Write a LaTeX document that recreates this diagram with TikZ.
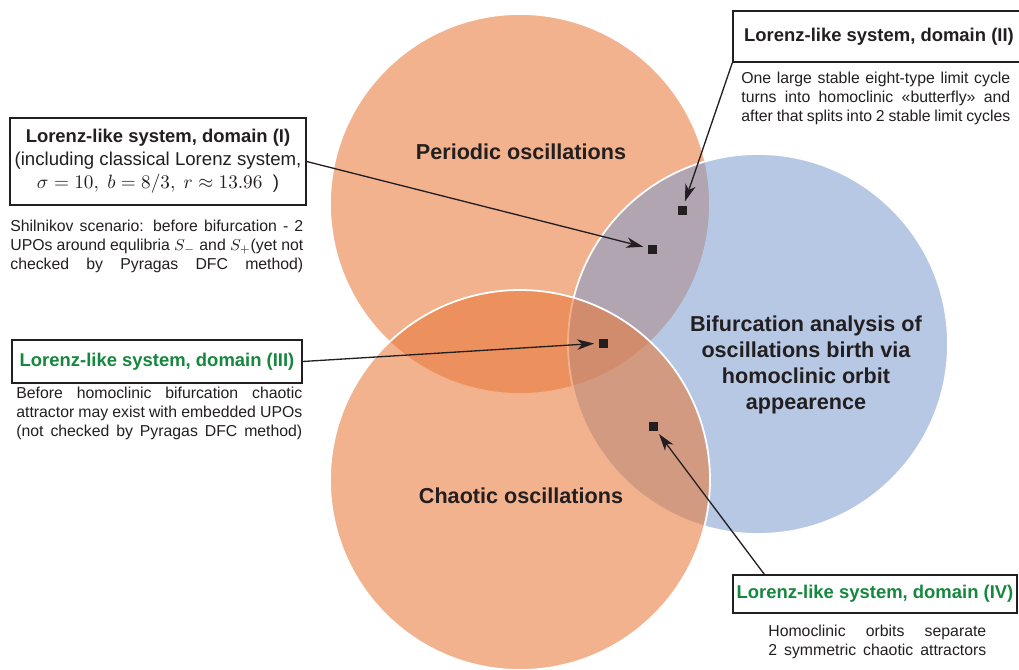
\documentclass[tikz,border=0pt]{standalone}
\usepackage{fontspec}
\setmainfont{Liberation Sans}
\usetikzlibrary{arrows.meta}

\definecolor{orangefill}{RGB}{232,122,60}
\definecolor{bluefill}{RGB}{124,155,206}
\definecolor{domaingreen}{RGB}{22,135,62}
\definecolor{inkgrey}{RGB}{35,31,32}

% one fully justified line of a note
\newcommand{\noteline}[2]{\makebox[#1][s]{#2}}

\begin{document}
\begin{tikzpicture}[x=0.02cm,y=-0.02cm,
    every node/.style={text=inkgrey},
    regime/.style={draw=white,line width=1pt},
    domainbox/.style={draw=inkgrey,line width=0.8pt,fill=white,inner sep=0pt,
        font=\bfseries\fontsize{10.5}{13}\selectfont},
    note/.style={inner sep=0pt,align=left,anchor=north west,
        font=\fontsize{9}{10.8}\selectfont},
    regimelabel/.style={align=center,font=\bfseries\fontsize{12.3}{14.8}\selectfont},
    marker/.style={fill=inkgrey,minimum size=0.18cm,inner sep=0pt},
    pointer/.style={draw=inkgrey,line width=0.75pt,shorten >=0.08cm,
        -{Stealth[length=0.34cm,width=0.21cm,inset=0.1cm]}}]
    \useasboundingbox (0,0) rectangle (1019,670);

    % the three regimes
    \path[regime,fill=orangefill,fill opacity=0.58] (520,204) circle[radius=190];
    \path[regime,fill=bluefill,fill opacity=0.55] (758,344) circle[radius=190];
    \path[regime,fill=orangefill,fill opacity=0.58] (520,480) circle[radius=190];

    \node[regimelabel] (periodic) at (521,152) {Periodic oscillations};
    \node[regimelabel] (chaotic) at (521,496) {Chaotic oscillations};
    \node[regimelabel] (bifurcation) at (806,365)
        {Bifurcation analysis of\\oscillations birth via\\homoclinic orbit\\appearence};

    % domains
    \node[domainbox,align=center,minimum width=5.92cm,minimum height=1.74cm] (domI) at (158,161.5)
        {Lorenz-like system, domain (I)\\
         \mdseries\fontsize{10.6}{13}\selectfont (including classical Lorenz system,\\
         \mdseries\fontsize{10.6}{13}\selectfont $\sigma=10,\ b=8/3,\ r\approx13.96$\ \ )};
    \node[note] (noteI) at (10,220)
        {\noteline{5.86cm}{Shilnikov scenario: before bifurcation - 2}\\
         \noteline{5.86cm}{UPOs around equlibria $S_{-}$ and $S_{+}$(yet not}\\
         \noteline{5.86cm}{checked by Pyragas DFC method)}};

    \node[domainbox,minimum width=5.84cm,minimum height=1.02cm] (domII) at (879,36.5)
        {Lorenz-like system, domain (II)\hspace{0.24cm}};
    \node[note] (noteII) at (741,72)
        {\noteline{5.38cm}{One large stable eight-type limit cycle}\\
         \noteline{5.38cm}{turns into homoclinic «butterfly» and}\\
         \noteline{5.38cm}{after that splits into 2 stable limit cycles}};

    \node[domainbox,text=domaingreen,minimum width=5.8cm,minimum height=0.86cm] (domIII) at (157,361.5)
        {Lorenz-like system, domain (III)};
    \node[note] (noteIII) at (16,387)
        {\noteline{5.72cm}{Before homoclinic bifurcation chaotic}\\
         \noteline{5.72cm}{attractor may exist with embedded UPOs}\\
         \noteline{5.72cm}{(not checked by Pyragas DFC method)}};

    \node[domainbox,text=domaingreen,minimum width=5.68cm,minimum height=0.76cm] (domIV) at (875,594)
        {Lorenz-like system, domain (IV)};
    \node[note] (noteIV) at (768,625)
        {\noteline{4.36cm}{Homoclinic orbits separate}\\
         \noteline{4.36cm}{2 symmetric chaotic attractors}};

    % points in the parameter plane
    \node[marker] (ptI) at (652,249) {};
    \node[marker] (ptII) at (682,210) {};
    \node[marker] (ptIII) at (603,343) {};
    \node[marker] (ptIV) at (653,426) {};

    \draw[pointer] (domI.east) -- (ptI);
    \draw[pointer] (domII.south west) -- (ptII);
    \draw[pointer] (domIII.east) -- (ptIII);
    \draw[pointer] (domIV.north west) ++(32,0) -- (ptIV);
\end{tikzpicture}
\end{document}
